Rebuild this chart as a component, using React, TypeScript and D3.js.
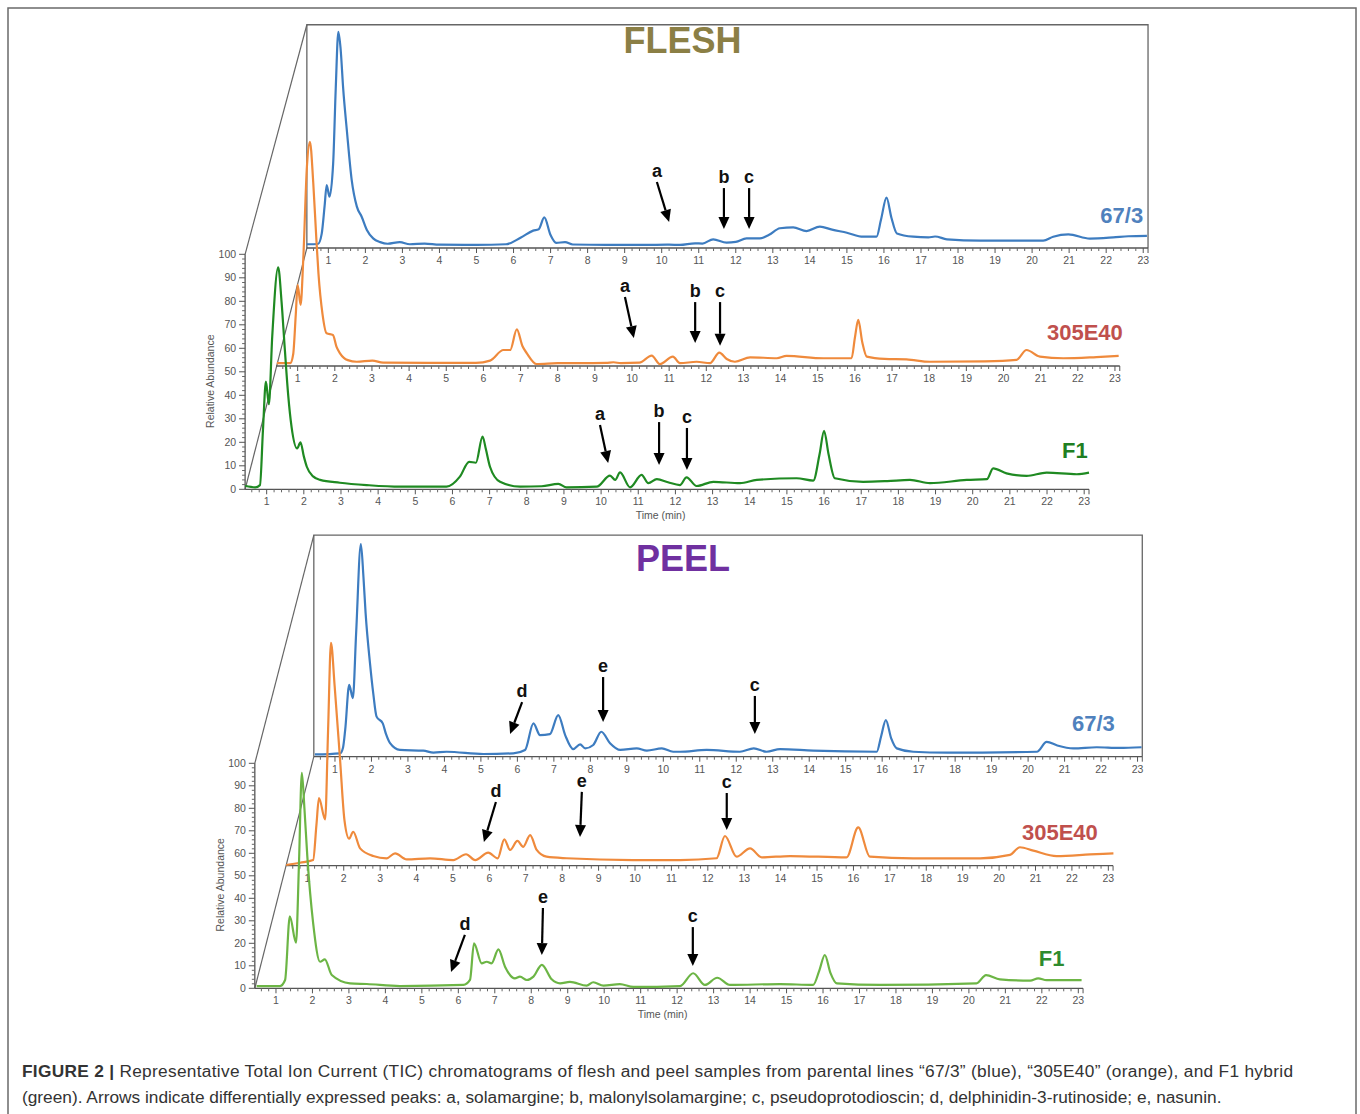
import React from "react";
import * as d3 from "d3";

type Pt = [number, number];

// time (min), relative abundance
const fleshBlue: Pt[] = [
  [0.42, 1.6], [0.72, 1.7], [0.82, 6], [0.9, 18], [0.955, 26.8], [1.03, 21.8], [1.13, 36], [1.2, 68],
  [1.27, 92], [1.33, 85], [1.4, 68], [1.5, 50], [1.63, 29], [1.77, 17.6], [1.9, 13.3], [2.04, 7.7],
  [2.21, 4.1], [2.4, 2.5], [2.6, 1.8], [2.93, 2.5], [3.2, 1.6], [3.6, 1.9], [4.0, 1.4], [5.0, 1.3],
  [5.8, 1.6], [6.2, 4.5], [6.53, 7.4], [6.68, 8], [6.83, 13], [7.0, 5.5], [7.15, 2.2], [7.39, 2.5],
  [7.6, 1.5], [8.5, 1.3], [9.5, 1.3], [10.2, 1.4], [10.49, 1.3], [10.9, 2.0], [11.1, 1.9], [11.39, 3.7],
  [11.75, 2.3], [12.0, 2.6], [12.29, 4.1], [12.65, 4.1], [12.9, 5.6], [13.19, 8.4], [13.55, 8.8],
  [13.91, 7.2], [14.27, 9.1], [14.6, 7.8], [15.0, 6.5], [15.44, 4.8], [15.8, 4.8], [15.92, 12],
  [16.07, 21.4], [16.2, 13], [16.35, 6.2], [16.79, 4.8], [17.2, 4.5], [17.38, 4.9], [17.7, 3.7],
  [18.6, 3.1], [20.3, 3.1], [20.57, 4.8], [20.98, 5.8], [21.56, 4.0], [22.19, 4.5], [22.6, 5.0], [23.1, 5.2],
];
const fleshOrange: Pt[] = [
  [0.44, 1.2], [0.8, 1.2], [0.88, 5], [0.95, 22], [1.0, 34.5], [1.08, 26], [1.15, 45], [1.25, 85],
  [1.33, 95.4], [1.42, 78], [1.5, 55], [1.56, 39.4], [1.67, 22], [1.78, 13.9], [1.95, 13.2], [2.05, 8],
  [2.14, 5.4], [2.35, 2.5], [2.59, 1.8], [3.01, 2.3], [3.3, 1.4], [4.5, 1.3], [5.8, 1.3], [6.18, 2.3],
  [6.54, 6.8], [6.72, 6.8], [6.9, 15.6], [7.05, 8.5], [7.17, 5.4], [7.43, 0.85], [8.0, 1.2], [9.3, 1.3],
  [9.5, 1.6], [9.7, 1.2], [10.2, 1.4], [10.53, 4.4], [10.75, 0.85], [11.1, 4.0], [11.29, 1.2],
  [11.74, 1.8], [12.1, 1.2], [12.35, 5.7], [12.55, 3.0], [12.77, 1.8], [13.18, 3.7], [13.9, 3.3],
  [14.16, 4.3], [15.15, 3.3], [15.91, 3.3], [16.0, 12], [16.09, 19.6], [16.2, 10], [16.32, 4.0],
  [16.8, 3.0], [17.39, 2.8], [18.02, 1.8], [19.5, 2.0], [20.35, 2.6], [20.62, 6.8], [20.98, 4.0],
  [21.61, 3.3], [22.5, 3.8], [23.1, 4.3],
];
const fleshGreen: Pt[] = [
  [0.42, 1.5], [0.69, 0.85], [0.82, 1.8], [0.9, 25], [0.98, 45.8], [1.06, 36.2], [1.15, 65], [1.31, 94.5],
  [1.4, 80], [1.49, 59.3], [1.58, 40], [1.67, 26.6], [1.82, 17.4], [1.91, 20], [2.0, 14], [2.08, 9.6],
  [2.25, 5.5], [2.44, 4.0], [2.97, 2.8], [3.69, 1.8], [4.59, 1.1], [5.84, 1.1], [6.2, 5.4], [6.45, 11.7],
  [6.63, 11.3], [6.81, 22.4], [6.9, 17], [7.01, 9.6], [7.28, 3.2], [7.82, 1.1], [8.4, 1.3], [8.85, 2.3],
  [9.07, 0.85], [9.88, 1.1], [10.24, 5.8], [10.38, 4.0], [10.51, 7.2], [10.78, 0.85], [11.09, 6.1],
  [11.27, 2.6], [11.5, 4.3], [11.8, 3.0], [12.12, 1.8], [12.3, 5.1], [12.57, 1.4], [13.02, 3.2],
  [13.74, 2.6], [14.19, 4.0], [15.26, 4.7], [15.71, 3.7], [15.88, 15], [16.0, 24.9], [16.12, 15],
  [16.29, 4.7], [17.05, 3.2], [17.7, 3.5], [18.31, 4.0], [18.85, 2.6], [19.84, 4.0], [20.38, 4.3],
  [20.55, 8.9], [20.91, 6.8], [21.45, 5.7], [21.99, 7.1], [22.8, 6.4], [23.13, 7.1],
];
const peelBlue: Pt[] = [
  [0.45, 1.0], [1.14, 1.5], [1.22, 4], [1.28, 11.9], [1.39, 31.9], [1.49, 26], [1.58, 55], [1.71, 94.5],
  [1.78, 80], [1.84, 63.7], [1.96, 41.5], [2.05, 28], [2.14, 17.8], [2.31, 14.8], [2.4, 10], [2.51, 6],
  [2.78, 3], [3.42, 2.7], [3.7, 1.8], [4.06, 2.2], [5.07, 1.2], [5.89, 1.5], [6.21, 3], [6.44, 14.8],
  [6.62, 9.6], [6.89, 10], [7.12, 18.5], [7.31, 9.6], [7.53, 3.4], [7.72, 5.5], [7.86, 3.7], [8.08, 5.2],
  [8.3, 11.1], [8.54, 6], [8.82, 3], [9.27, 3.7], [9.55, 2.7], [9.96, 3.7], [10.27, 2.2], [10.46, 2.2],
  [11.19, 3], [12.1, 2.2], [12.48, 3.7], [12.83, 2.2], [13.2, 3.4], [14.11, 2.7], [15.85, 2.2],
  [15.97, 9], [16.1, 16.3], [16.25, 8], [16.4, 3.7], [16.85, 2.2], [17.77, 1.8], [20.24, 2.2],
  [20.51, 6.6], [20.8, 5], [21.24, 3.7], [21.88, 4.2], [22.5, 3.9], [23.11, 4.2],
];
const peelOrange: Pt[] = [
  [0.42, 0.3], [0.8, 1.3], [1.16, 2.5], [1.25, 18], [1.32, 30], [1.49, 20.6], [1.57, 60], [1.65, 99],
  [1.75, 80], [1.9, 47], [2.02, 20.3], [2.15, 12], [2.26, 15.1], [2.45, 7.7], [2.81, 4.3], [3.18, 3.3],
  [3.41, 5.5], [3.73, 2.8], [4.37, 3.3], [5.01, 2.5], [5.36, 5.1], [5.61, 2.5], [5.97, 5.8], [6.23, 3.3],
  [6.41, 11.7], [6.57, 7.0], [6.77, 11], [6.93, 8.4], [7.12, 13.6], [7.3, 7], [7.57, 4], [8.12, 3.3],
  [9.95, 2.5], [11.24, 2.5], [12.24, 3.3], [12.47, 13.2], [12.79, 4], [13.16, 7.7], [13.48, 3.7],
  [14.26, 4.3], [15.81, 3.7], [16.13, 17], [16.45, 4], [17.64, 3.3], [19.48, 3.3], [20.3, 4.8],
  [20.57, 8.2], [20.94, 6.7], [21.58, 4.3], [22.5, 5], [23.14, 5.5],
];
const peelGreen: Pt[] = [
  [0.47, 1.0], [1.11, 1.0], [1.25, 3.7], [1.38, 32], [1.55, 20.3], [1.63, 55], [1.71, 95.8], [1.78, 80],
  [1.86, 58.5], [2.02, 28.9], [2.21, 11.8], [2.34, 12.9], [2.53, 5.9], [3.03, 2.2], [3.49, 1.9],
  [4.4, 1.0], [6.14, 1.5], [6.32, 3.7], [6.43, 20], [6.64, 11.1], [6.78, 11.8], [6.91, 11.1], [7.1, 17.3],
  [7.28, 9.6], [7.55, 4.4], [7.69, 5.2], [7.88, 3.7], [8.06, 5.2], [8.29, 10.4], [8.56, 4], [8.79, 2.2],
  [9.06, 2.9], [9.52, 1.2], [9.7, 2.7], [9.98, 1.2], [10.43, 1.9], [10.8, 0.6], [12.08, 1.0],
  [12.44, 6.7], [12.76, 1.5], [13.1, 4.7], [13.45, 1.5], [14.82, 1.9], [15.73, 1.5], [15.9, 8],
  [16.05, 14.8], [16.2, 7], [16.38, 2.2], [17.56, 1.5], [20.21, 2.2], [20.47, 5.9], [20.85, 4],
  [21.68, 3.4], [21.9, 4.4], [22.13, 3.6], [23.09, 3.6],
];

// arrows: label, tail (t, v) -> tip (t, v)
type Arrow = { label: string; t0: number; v0: number; t1: number; v1: number };
const fleshBlueArrows: Arrow[] = [
  { label: "a", t0: 9.87, v0: 28.1, t1: 10.2, v1: 11.1 },
  { label: "b", t0: 11.68, v0: 25.5, t1: 11.68, v1: 8.1 },
  { label: "c", t0: 12.36, v0: 25.5, t1: 12.36, v1: 8.1 },
];
const fleshOrangeArrows: Arrow[] = [
  { label: "a", t0: 9.81, v0: 29.4, t1: 10.05, v1: 11.9 },
  { label: "b", t0: 11.7, v0: 27.2, t1: 11.7, v1: 9.8 },
  { label: "c", t0: 12.37, v0: 27.2, t1: 12.37, v1: 8.6 },
];
const fleshGreenArrows: Arrow[] = [
  { label: "a", t0: 9.97, v0: 27.4, t1: 10.19, v1: 11.2 },
  { label: "b", t0: 11.56, v0: 28.6, t1: 11.56, v1: 10.3 },
  { label: "c", t0: 12.31, v0: 26.1, t1: 12.31, v1: 8.2 },
];
const peelBlueArrows: Arrow[] = [
  { label: "d", t0: 6.13, v0: 24.3, t1: 5.8, v1: 10.1 },
  { label: "e", t0: 8.35, v0: 35.4, t1: 8.35, v1: 15.4 },
  { label: "c", t0: 12.51, v0: 27, t1: 12.51, v1: 10.1 },
];
const peelOrangeArrows: Arrow[] = [
  { label: "d", t0: 6.18, v0: 28.3, t1: 5.85, v1: 10.5 },
  { label: "e", t0: 8.54, v0: 32.8, t1: 8.49, v1: 12.8 },
  { label: "c", t0: 12.52, v0: 32.3, t1: 12.52, v1: 15.9 },
];
const peelGreenArrows: Arrow[] = [
  { label: "d", t0: 6.18, v0: 23.7, t1: 5.8, v1: 7.2 },
  { label: "e", t0: 8.32, v0: 35.7, t1: 8.29, v1: 14.8 },
  { label: "c", t0: 12.43, v0: 27.2, t1: 12.43, v1: 9.9 },
];

const xTickValues = d3.range(1, 24);
const yTickValues = d3.range(0, 101, 10);
const seriesNames = ["67/3", "305E40", "F1"];

const T_START = 0.42;
const T_END = 23.13;
const tickFont = "'Liberation Sans', Arial, sans-serif";

type LayerCfg = {
  x0: number; ppm: number; axisY: number; ppu: number;
  data: Pt[]; arrows: Arrow[]; color: string;
  name: string; nameColor: string; nameT: number; nameV: number;
};

function scalesFor(c: LayerCfg) {
  const x = d3.scaleLinear().domain([0, 23]).range([c.x0, c.x0 + 23 * c.ppm]);
  const y = d3.scaleLinear().domain([0, 100]).range([c.axisY, c.axisY - 100 * c.ppu]);
  return { x, y };
}

function Layer({ c }: { c: LayerCfg }) {
  const { x, y } = scalesFor(c);
  const line = d3.line<Pt>().x((d) => x(d[0])).y((d) => y(d[1])).curve(d3.curveMonotoneX);
  const minor = d3.range(3, 116).filter((i) => i % 5 !== 0).map((i) => i / 5).filter((t) => t > T_START && t < T_END);
  return (
    <g>
      <line x1={x(T_START)} x2={x(T_END)} y1={c.axisY} y2={c.axisY} stroke="#555" strokeWidth={1.3} />
      {minor.map((t) => (
        <line key={"m" + t} x1={x(t)} x2={x(t)} y1={c.axisY} y2={c.axisY + 3} stroke="#666" strokeWidth={1} />
      ))}
      {xTickValues.map((t) => (
        <g key={t}>
          <line x1={x(t)} x2={x(t)} y1={c.axisY} y2={c.axisY + 5} stroke="#555" strokeWidth={1} />
          <text x={x(t)} y={c.axisY + 16} textAnchor="middle" fontSize={10.5} fill="#555" fontFamily={tickFont}>{t}</text>
        </g>
      ))}
      <line x1={x(T_END)} x2={x(T_END)} y1={c.axisY} y2={c.axisY + 5} stroke="#555" />
      <path d={line(c.data) ?? ""} fill="none" stroke={c.color} strokeWidth={2.2} strokeLinejoin="round" />
      <text x={x(c.nameT)} y={y(c.nameV)} dy="0.36em" textAnchor="middle" fontSize={22} fontWeight="bold"
        fill={c.nameColor} fontFamily="'Liberation Sans', Arial, sans-serif">{c.name}</text>
      {c.arrows.map((a, i) => {
        const xa = x(a.t0), ya = y(a.v0), xb = x(a.t1), yb = y(a.v1);
        const ang = Math.atan2(yb - ya, xb - xa);
        const hl = 12, hw = 5.5;
        const bx = xb - hl * Math.cos(ang), by = yb - hl * Math.sin(ang);
        const px = -Math.sin(ang) * hw, py = Math.cos(ang) * hw;
        return (
          <g key={i}>
            <line x1={xa} y1={ya} x2={bx} y2={by} stroke="#000" strokeWidth={2.2} />
            <polygon points={`${xb},${yb} ${bx + px},${by + py} ${bx - px},${by - py}`} fill="#000" />
            <text x={xa} y={ya - 5} textAnchor="middle" fontSize={18} fontWeight="bold" fill="#111"
              fontFamily="'Liberation Sans', Arial, sans-serif">{a.label}</text>
          </g>
        );
      })}
    </g>
  );
}

function Panel({ layers, boxTop, title, titleColor, titleY }: {
  layers: LayerCfg[]; boxTop: number; title: string; titleColor: string; titleY: number;
}) {
  const back = scalesFor(layers[0]);
  const front = scalesFor(layers[2]);
  const bx0 = back.x(T_START), bx1 = back.x(T_END), bTop = back.y(boxTop);
  const ax = front.x(T_START);
  const yMinor = d3.range(0, 101, 2).filter((v) => v % 10 !== 0);
  return (
    <g>
      <path d={`M${bx0},${layers[0].axisY} V${bTop} H${bx1} V${layers[0].axisY}`} fill="none" stroke="#666" strokeWidth={1.3} />
      <line x1={bx0} y1={bTop} x2={ax} y2={front.y(100)} stroke="#666" strokeWidth={1.2} />
      <line x1={bx0} y1={layers[0].axisY} x2={ax} y2={layers[2].axisY} stroke="#666" strokeWidth={1.2} />
      <text x={(bx0 + bx1) / 2 - 45} y={titleY} textAnchor="middle" fontSize={36} fontWeight="bold" fill={titleColor}
        fontFamily="'Liberation Sans', Arial, sans-serif">{title}</text>
      {/* y axis */}
      <line x1={ax} x2={ax} y1={front.y(0)} y2={front.y(100)} stroke="#555" strokeWidth={1.3} />
      {yMinor.map((v) => (
        <line key={"ym" + v} x1={ax - 3} x2={ax} y1={front.y(v)} y2={front.y(v)} stroke="#666" />
      ))}
      {yTickValues.map((v) => (
        <g key={v}>
          <line x1={ax - 6} x2={ax} y1={front.y(v)} y2={front.y(v)} stroke="#555" />
          <text x={ax - 9} y={front.y(v)} dy="0.35em" textAnchor="end" fontSize={10.5} fill="#555" fontFamily={tickFont}>{v}</text>
        </g>
      ))}
      <text transform={`translate(${ax - 31},${front.y(46)}) rotate(-90)`} textAnchor="middle" fontSize={10.5}
        fill="#555" fontFamily={tickFont}>Relative Abundance</text>
      <text x={front.x(11.6)} y={layers[2].axisY + 30} textAnchor="middle" fontSize={10.5} fill="#555"
        fontFamily={tickFont}>Time (min)</text>
      {layers.map((c, i) => <Layer key={i} c={c} />)}
    </g>
  );
}

const BLUE = "#3d7cc0";
const ORANGE = "#ef8a3c";

const fleshLayers: LayerCfg[] = [
  { x0: 291.3, ppm: 37.04, axisY: 248, ppu: 2.35, data: fleshBlue, arrows: fleshBlueArrows, color: BLUE,
    name: seriesNames[0], nameColor: "#4f81bd", nameT: 22.42, nameV: 14 },
  { x0: 260.5, ppm: 37.15, axisY: 366, ppu: 2.35, data: fleshOrange, arrows: fleshOrangeArrows, color: ORANGE,
    name: seriesNames[1], nameColor: "#c0504d", nameT: 22.19, nameV: 14.6 },
  { x0: 229.5, ppm: 37.16, axisY: 489.3, ppu: 2.35, data: fleshGreen, arrows: fleshGreenArrows, color: "#1f8a22",
    name: seriesNames[2], nameColor: "#1f7f22", nameT: 22.75, nameV: 16.7 },
];
const peelLayers: LayerCfg[] = [
  { x0: 298.5, ppm: 36.48, axisY: 756.7, ppu: 2.25, data: peelBlue, arrows: peelBlueArrows, color: BLUE,
    name: seriesNames[0], nameColor: "#4f81bd", nameT: 21.79, nameV: 15.1 },
  { x0: 270.9, ppm: 36.41, axisY: 865.7, ppu: 2.25, data: peelOrange, arrows: peelOrangeArrows, color: ORANGE,
    name: seriesNames[1], nameColor: "#c0504d", nameT: 21.67, nameV: 15.1 },
  { x0: 239.5, ppm: 36.47, axisY: 988.3, ppu: 2.25, data: peelGreen, arrows: peelGreenArrows, color: "#6cb545",
    name: seriesNames[2], nameColor: "#2e8b2e", nameT: 22.27, nameV: 13.3 },
];

export default function App() {
  const capFont = "'Liberation Sans', Arial, Helvetica, sans-serif";
  return (
    <svg width={1360} height={1114} style={{ position: "absolute", left: 0, top: 0, background: "#fff" }}>
      <rect x={8} y={8} width={1348} height={1130} fill="#fff" stroke="#6a6a6a" strokeWidth={1.5} />
      <Panel layers={fleshLayers} boxTop={95} title="FLESH" titleColor="#8b7f45" titleY={53} />
      <Panel layers={peelLayers} boxTop={98.5} title="PEEL" titleColor="#7030a0" titleY={571} />
      <text x={22} y={1077} fontSize={17.3} fill="#333" fontFamily={capFont} textLength={1271} lengthAdjust="spacing">
        <tspan fontWeight="bold">FIGURE 2 |</tspan>
        <tspan> Representative Total Ion Current (TIC) chromatograms of flesh and peel samples from parental lines “67/3” (blue), “305E40” (orange), and F1 hybrid</tspan>
      </text>
      <text x={22} y={1103} fontSize={17.3} fill="#333" fontFamily={capFont}>
        (green). Arrows indicate differentially expressed peaks: a, solamargine; b, malonylsolamargine; c, pseudoprotodioscin; d, delphinidin-3-rutinoside; e, nasunin.
      </text>
    </svg>
  );
}
